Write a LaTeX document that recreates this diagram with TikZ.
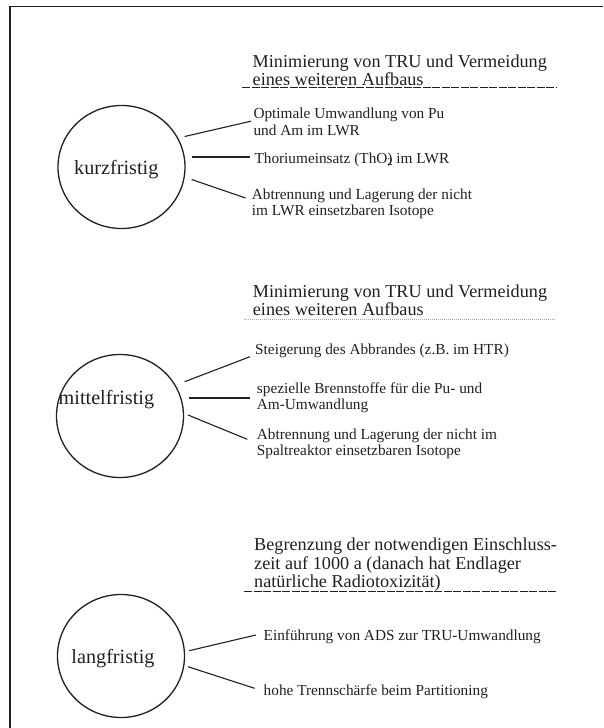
\documentclass[tikz,border=0pt]{standalone}
\usepackage{fontspec}
\setmainfont{Liberation Serif}
\usetikzlibrary{calc,shapes.geometric}
\definecolor{ink}{HTML}{231F20}
% several lines, aligned left, baseline on the first line
\newcommand\linesstack[1]{\begin{tabular}[t]{@{}l@{}}#1\end{tabular}}
\begin{document}
\begin{tikzpicture}[x=1pt,y=-1pt,
  frame/.style={draw=ink,line width=1.6pt},
  phase/.style={ellipse,draw=ink,line width=1.3pt,minimum width=127pt,minimum height=123pt,inner sep=0pt},
  phasename/.style={anchor=base,inner sep=0pt,text=ink,font=\fontsize{20.2}{24}\selectfont},
  goal/.style={anchor=base west,inner sep=0pt,text=ink,font=\fontsize{18.2}{18.4}\selectfont},
  measure/.style={anchor=base west,inner sep=0pt,text=ink,font=\fontsize{15.3}{16.5}\selectfont},
  branch/.style={draw=ink,line width=1.1pt},
  mainbranch/.style={draw=ink,line width=2.3pt},
  underrule/.style={draw=ink,line width=0.9pt,dash pattern=on 8.2pt off 1.3pt},
  faintrule/.style={draw=black!35,line width=0.5pt,dash pattern=on 1pt off 1pt}]
\useasboundingbox (0,0) rectangle (603,728);

% page frame (open at the right and at the bottom)
\draw[frame] (10,728) -- (10,6.5) -- (603,6.5);

% ---------------- kurzfristig ----------------
\node[goal] (g1) at (252.5,67) {\linesstack{Minimierung von TRU und Vermeidung\\eines weiteren Aufbaus}};
\draw[underrule] (242,87.5) -- (556,87.5);

\node[phase] (kz) at (121.5,167) {};
\node[phasename] (kzl) at (116.3,174) {kurzfristig};

\node[measure] (ka) at (253.3,118.7) {\linesstack{Optimale Umwandlung von Pu\\und Am im LWR}};
\node[measure] (kb) at (254.3,163.3) {Thoriumeinsatz (ThO\rlap{\textsubscript{2}}) im LWR};
\node[measure] (kc) at (251.7,199.3) {\linesstack{Abtrennung und Lagerung der nicht\\im LWR einsetzbaren Isotope}};

\draw[branch]     ($(kz.east)+(-1,-30.5)$) -- ($(ka.base west)+(-2.3,2.5)$);
\draw[mainbranch] ($(kz.east)+(6,-10)$)    -- ($(kb.base west)+(-4.8,-6.3)$);
\draw[branch]     ($(kz.east)+(6,12.5)$)   -- ($(kc.base west)+(-6.2,-1.3)$);

% ---------------- mittelfristig ----------------
\node[goal] (g2) at (252.7,297.3) {\linesstack{Minimierung von TRU und Vermeidung\\eines weiteren Aufbaus}};
\draw[faintrule] (244,319.3) -- (556,319.3);

\node[phase] (mz) at (120,416) {};
\node[phasename] (mzl) at (106.4,404.3) {mittelfristig};

\node[measure] (ma) at (255,354) {Steigerung des Abbrandes (z.B. im HTR)};
\node[measure] (mb) at (256.7,393.3) {\linesstack{spezielle Brennstoffe für die Pu- und\\Am-Umwandlung}};
\node[measure] (mc) at (256.7,439.3) {\linesstack{Abtrennung und Lagerung der nicht im\\Spaltreaktor einsetzbaren Isotope}};

\draw[branch]     ($(mz.east)+(0.5,-34.3)$) -- ($(ma.base west)+(-5,2.7)$);
\draw[mainbranch] ($(mz.east)+(5,-18.3)$)   -- ($(mb.base west)+(-6.7,4.4)$);
\draw[branch]     ($(mz.east)+(3.8,-1)$)    -- ($(mc.base west)+(-9.4,0)$);

% ---------------- langfristig ----------------
\node[goal] (g3) at (254,550.7) {\linesstack{Begrenzung der notwendigen Einschluss-\\zeit auf 1000 a (danach hat Endlager\\natürliche Radiotoxizität)}};
\draw[underrule] (244,591) -- (556,591);

\node[phase] (lz) at (121,656) {};
\node[phasename] (lzl) at (113,663) {langfristig};

\node[measure] (la) at (263.5,640) {Einführung von ADS zur TRU-Umwandlung};
\node[measure] (lb) at (263.5,695) {hohe Trennschärfe beim Partitioning};

\draw[branch] ($(lz.east)+(4,-5.3)$)   -- ($(la.base west)+(-7.7,-5)$);
\draw[branch] ($(lz.east)+(2.8,10.7)$) -- ($(lb.base west)+(-8.9,-6.7)$);
\end{tikzpicture}
\end{document}
